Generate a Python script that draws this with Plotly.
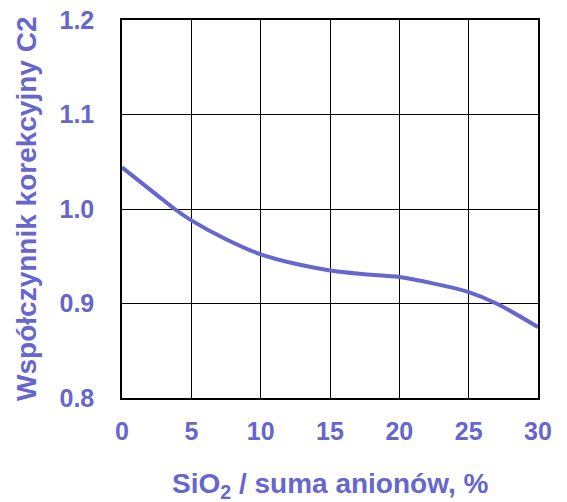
import plotly.graph_objects as go

# SiO2 share of total anions (%) and correction coefficient C2
sio2_pct = [0, 2.5, 3.8, 5, 7.5, 10, 12.5, 15, 17.5, 20, 22.5, 25, 27, 30]
c2_coef = [1.044, 1.015, 1.0, 0.988, 0.968, 0.952, 0.942, 0.935, 0.931, 0.928, 0.921, 0.912, 0.900, 0.875]

x_ticks = [0, 5, 10, 15, 20, 25, 30]
y_ticks = [0.8, 0.9, 1.0, 1.1, 1.2]
y_tick_text = ["0.8", "0.9", "1.0", "1.1", "1.2"]

accent = "#6666CC"
font_family = "Liberation Sans, Arial, sans-serif"

fig = go.Figure()
fig.add_trace(go.Scatter(
    x=sio2_pct, y=c2_coef, mode="lines",
    line=dict(color=accent, width=4, shape="spline", smoothing=1.0),
    hoverinfo="skip", showlegend=False,
))

axis_common = dict(
    showgrid=True, gridcolor="black", gridwidth=1,
    showline=True, linecolor="black", linewidth=1.5, mirror=True,
    zeroline=False, ticks="",
    tickfont=dict(family=font_family, size=25, color=accent, weight="bold"),
    automargin=False,
)

fig.update_layout(
    width=567, height=502,
    margin=dict(l=122, r=29, t=20, b=104, autoexpand=False),
    paper_bgcolor="white", plot_bgcolor="white",
    xaxis=dict(range=[0, 30], tickvals=x_ticks, ticklabelstandoff=10, **axis_common),
    yaxis=dict(range=[0.8, 1.2], tickvals=y_ticks, ticktext=y_tick_text,
               ticklabelstandoff=21, **axis_common),
    font=dict(family=font_family),
    annotations=[
        dict(text="<b>SiO<sub>2</sub> / suma anionów, %</b>", xref="paper", yref="paper",
             x=0.5, y=-0.232, xanchor="center", yanchor="middle", showarrow=False,
             font=dict(family=font_family, size=28, color=accent)),
        dict(text="<b>Współczynnik korekcyjny C2</b>", xref="paper", yref="paper",
             x=-0.231, y=0.5, xanchor="center", yanchor="middle", showarrow=False,
             textangle=-90, font=dict(family=font_family, size=28, color=accent)),
    ],
)

fig.write_html("out.html")
